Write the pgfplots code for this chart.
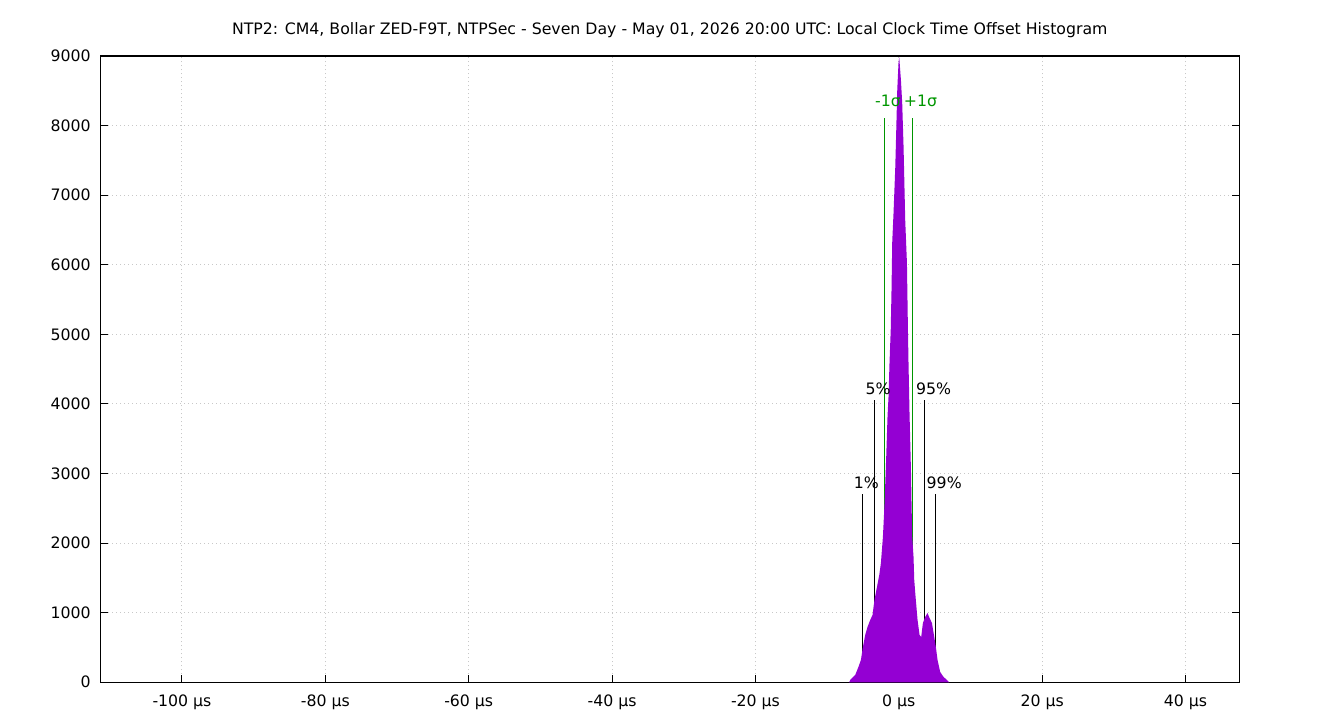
\documentclass[border=0pt]{standalone}
\usepackage{fontspec}
\setmainfont{DejaVu Sans}
\usepackage{pgfplots}
\pgfplotsset{compat=1.18}
\definecolor{histviolet}{HTML}{9400D3}
\definecolor{sigmagreen}{RGB}{0,150,0}
\definecolor{gridgray}{RGB}{200,200,200}

\begin{document}
\begin{tikzpicture}[font=\fontsize{11.8pt}{14pt}\selectfont]
\useasboundingbox (0,0) rectangle (1005pt,540pt);
\begin{axis}[
  at={(75.2pt,28.3pt)}, anchor=south west,
  scale only axis, width=854.3pt, height=469.7pt,
  xmin=-111.4, xmax=47.5, ymin=0, ymax=9000,
  xtick={-100,-80,-60,-40,-20,0,20,40},
  xticklabels={-100 µs,-80 µs,-60 µs,-40 µs,-20 µs,0 µs,20 µs,40 µs},
  ytick={0,1000,2000,3000,4000,5000,6000,7000,8000,9000},
  /pgf/number format/assume math mode=true,
  /pgf/number format/1000 sep={},
  xtick pos=lower, ytick pos=both,
  tick align=inside, major tick length=5.5pt,
  tick style={black, line width=0.75pt},
  axis line style={black, line width=0.9pt},
  xmajorgrids, ymajorgrids,
  grid style={gridgray, line width=0.75pt, dash pattern=on 0.75pt off 2.25pt},
  xticklabel style={anchor=base, yshift=-18.4pt},
  yticklabel style={anchor=east, xshift=-3.6pt},
  title={NTP2: CM4, Bollar ZED-F9T, NTPSec - Seven Day - May 01, 2026 20:00 UTC: Local Clock Time Offset Histogram},
  title style={at={(0.5,1)}, anchor=base, inner sep=0pt, yshift=9.75pt},
]
% percentile markers
\addplot[black, line width=0.75pt] coordinates {(-5.06,0) (-5.06,2700)};
\addplot[black, line width=0.75pt] coordinates {(-3.39,0) (-3.39,4050)};
\addplot[black, line width=0.75pt] coordinates {(3.59,0) (3.59,4050)};
\addplot[black, line width=0.75pt] coordinates {(5.12,0) (5.12,2700)};
% sigma markers
\addplot[sigmagreen, line width=0.75pt] coordinates {(-1.99,0) (-1.99,8105)};
\addplot[sigmagreen, line width=0.75pt] coordinates {(1.91,0) (1.91,8105)};
% histogram outline
\addplot[draw=none, fill=histviolet] coordinates {
  (-6.92,0) (-6.78,33) (-6.08,105) (-5.62,224) (-5.29,320) (-5.01,507)
  (-4.69,680) (-4.37,795) (-3.99,895) (-3.67,967) (-3.40,1183) (-3.05,1369)
  (-2.73,1542) (-2.50,1714) (-2.22,2088) (-1.99,2577) (-1.76,3238) (-1.58,3812)
  (-1.44,4100) (-1.30,4588) (-1.13,5062) (-1.02,5637) (-0.92,6327) (-0.74,6743)
  (-0.50,7389) (-0.36,7935) (-0.22,8510) (-0.04,8913) (0.06,8978) (0.29,8655)
  (0.47,8324) (0.66,7691) (0.89,6643) (1.13,6026) (1.27,5062) (1.35,4588)
  (1.49,3870) (1.69,3051) (1.77,2577) (1.87,2088) (2.05,1800) (2.15,1470)
  (2.29,1283) (2.61,895) (2.89,680) (3.12,651) (3.36,852) (3.68,938)
  (4.00,996) (4.28,924) (4.62,852) (4.94,651) (5.22,464) (5.40,320)
  (5.77,148) (6.24,76) (6.71,33) (7.03,0)
} \closedcycle;
\node[anchor=base west, inner sep=0pt, xshift=-6.8pt, yshift=4.7pt] at (axis cs:-5.06,2700) {1\%};
\node[anchor=base west, inner sep=0pt, xshift=-6.8pt, yshift=4.7pt] at (axis cs:-3.39,4050) {5\%};
\node[anchor=base west, inner sep=0pt, xshift=-6.6pt, yshift=4.7pt] at (axis cs:3.59,4050) {95\%};
\node[anchor=base west, inner sep=0pt, xshift=-6.8pt, yshift=4.7pt] at (axis cs:5.12,2700) {99\%};
\node[anchor=base west, inner sep=0pt, xshift=-7.3pt, yshift=8.7pt, text=sigmagreen] at (axis cs:-1.99,8105) {-1σ};
\node[anchor=base west, inner sep=0pt, xshift=-6.6pt, yshift=8.7pt, text=sigmagreen] at (axis cs:1.91,8105) {+1σ};
\end{axis}
\end{tikzpicture}
\end{document}
